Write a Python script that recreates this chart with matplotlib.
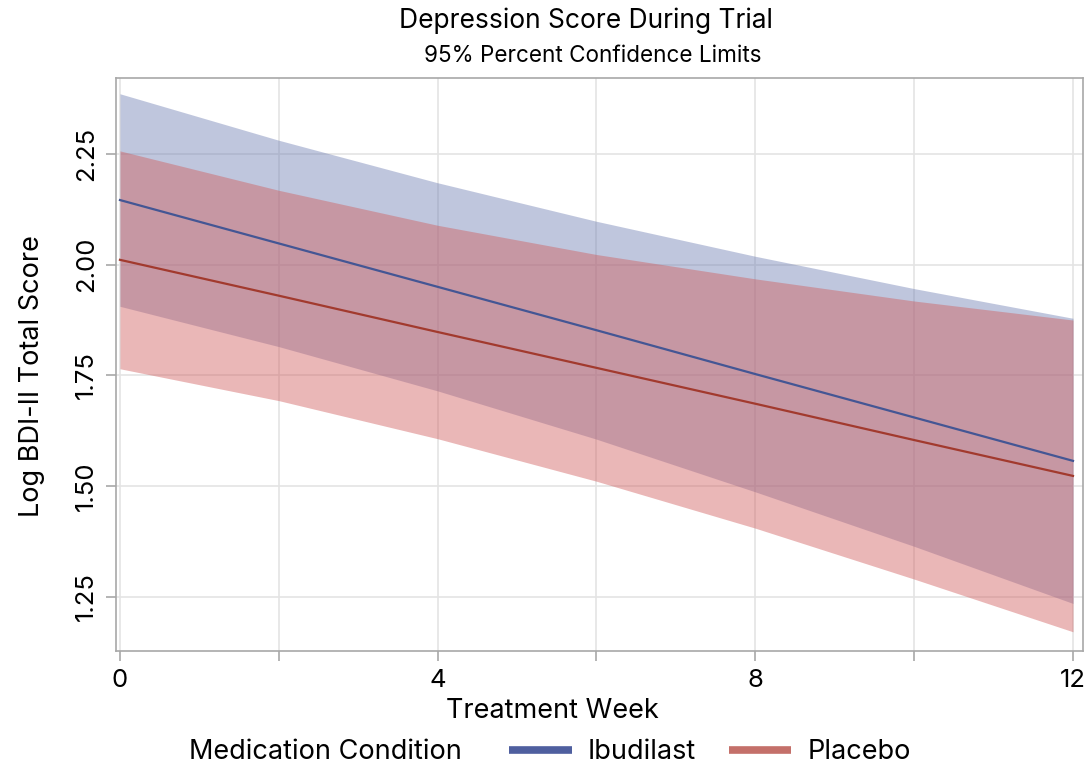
import numpy as np
import matplotlib
matplotlib.use("Agg")
import matplotlib.pyplot as plt
from matplotlib.lines import Line2D
from matplotlib.offsetbox import HPacker

plt.rcParams['font.family'] = ['Inter', 'DejaVu Sans']

# model estimates by treatment week
weeks = [0, 2, 4, 6, 8, 10, 12]

ibud_fit = [2.146, 2.048, 1.950, 1.852, 1.753, 1.655, 1.557]
ibud_upper = [2.386, 2.281, 2.185, 2.098, 2.019, 1.946, 1.879]
ibud_lower = [1.906, 1.815, 1.715, 1.606, 1.487, 1.364, 1.235]

plac_fit = [2.011, 1.930, 1.848, 1.767, 1.686, 1.604, 1.523]
plac_upper = [2.257, 2.168, 2.089, 2.023, 1.968, 1.918, 1.875]
plac_lower = [1.765, 1.693, 1.607, 1.511, 1.405, 1.290, 1.171]

groups = ["Ibudilast", "Placebo"]

blue_line, blue_fill = "#445694", "#6F7EB3"
red_line, red_fill = "#A23A2E", "#D05B5B"

fig = plt.figure(figsize=(10.88, 7.72), dpi=100)
ax = fig.add_axes([116/1088, 1 - 651/772, (1083-116)/1088, (651-78)/772])

ax.fill_between(weeks, ibud_lower, ibud_upper, color=blue_fill, alpha=0.44, lw=0, zorder=2)
ax.fill_between(weeks, plac_lower, plac_upper, color=red_fill, alpha=0.44, lw=0, zorder=3)
ax.plot(weeks, ibud_fit, color=blue_line, lw=1.6, zorder=4)
ax.plot(weeks, plac_fit, color=red_line, lw=1.6, zorder=4)

ax.set_xlim(-0.05, 12.126)
ax.set_ylim(1.1276, 2.4216)
ax.set_xticks(range(0, 13, 2))
ax.set_xticklabels(["0", "", "4", "", "8", "", "12"])
ax.set_yticks([1.25, 1.50, 1.75, 2.00, 2.25])
ax.set_yticklabels(["1.25", "1.50", "1.75", "2.00", "2.25"], rotation=90, va="center")
ax.grid(True, color="#e4e4e4", lw=1.2, zorder=0)
ax.set_axisbelow(True)
for s in ax.spines.values():
    s.set_color("#a8a8a8")
    s.set_linewidth(1.2)
ax.tick_params(colors="#a8a8a8", length=7, width=1.2, labelcolor="black", labelsize=18.5, pad=6)

ax.set_ylabel("Log BDI-II Total Score", fontsize=19.5)
ax.yaxis.set_label_coords(-0.073, 0.48)
fig.text(552/1088, 1 - 711/772, "Treatment Week", ha="center", va="center", fontsize=19.5)

fig.text(586/1088, 1 - 21/772, "Depression Score During Trial", ha="center", va="center", fontsize=19)
fig.text(593/1088, 1 - 56/772, "95% Percent Confidence Limits", ha="center", va="center", fontsize=16.2)

handles = [Line2D([], [], color="#4F5F9F", lw=5.5, solid_capstyle="butt"),
           Line2D([], [], color="#C4706A", lw=5.5, solid_capstyle="butt")]
leg = fig.legend(handles, groups, loc="center", bbox_to_anchor=(550/1088, 1 - 752/772), ncol=2,
                 frameon=False, fontsize=19.5, title="Medication Condition", title_fontsize=19.5,
                 handlelength=2.3, columnspacing=1.2, handletextpad=0.6)
# put the title on the same row as the entries
box = leg._legend_box
box._children = [HPacker(children=list(box.get_children()), pad=0, sep=34, align="center")]

fig.savefig("out.png", dpi=100)
